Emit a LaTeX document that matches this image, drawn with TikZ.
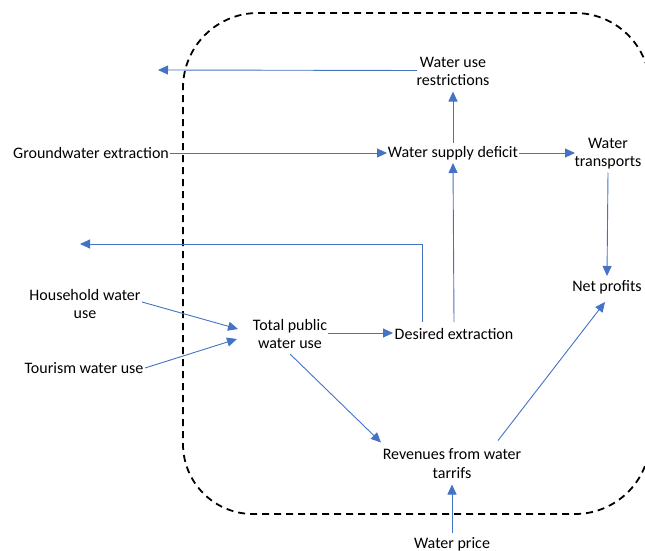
\documentclass[tikz,border=0pt]{standalone}
\usepackage{fontspec}
\setmainfont{Carlito}
\usetikzlibrary{arrows.meta,calc}
\definecolor{linkblue}{HTML}{4472C4}
\tikzset{
  label/.style={align=center,inner sep=0pt,font=\fontsize{16}{18.5}\selectfont},
  link/.style={draw=linkblue,line width=0.9pt,-{Triangle[length=10pt,width=9pt]}},
  boundary/.style={draw=black,line width=1.8pt,dash pattern=on 7pt off 5pt}
}
\begin{document}
\begin{tikzpicture}[x=1pt,y=-1pt]
\useasboundingbox (0,0) rectangle (645,551);
\clip (0,0) rectangle (645,551);

% system boundary; its right side lies beyond the page edge, so the
% path starts and ends on the right-hand corner arcs
% (y grows downwards here, so arc angles turn clockwise)
\draw[boundary] (647.44,68.59)
  arc[start angle=-15,end angle=-90,radius=75]
  -- (258,13)
  arc[start angle=270,end angle=180,radius=75]
  -- (183,444)
  arc[start angle=180,end angle=90,radius=70]
  -- (575,514)
  arc[start angle=90,end angle=15,radius=75];

% variables
\node[label] (wur) at (453,71.5) {Water use\\restrictions};
\node[label] (ge)  at (91,153)   {Groundwater extraction};
\node[label] (wsd) at (453,153)  {Water supply deficit};
\node[label] (wt)  at (608,153.5){Water\\transports};
\node[label] (np)  at (607,287)  {Net profits};
\node[label] (hh)  at (85,304)   {Household water\\use};
\node[label] (tw)  at (84,368)   {Tourism water use};
\node[label] (tp)  at (290,334)  {Total public\\water use};
\node[label] (de)  at (454,334)  {Desired extraction};
\node[label] (rev) at (452,463.5){Revenues from water\\tarrifs};
\node[label] (wp)  at (452,544)  {Water price};

% outflows leaving the boundary
\coordinate (outA) at (158,70);
\coordinate (outB) at (80,244);

% causal links
\draw[link] ($(wur)+(-36,-1)$) -- (outA);
\draw[link] ($(wsd)+(0,-10)$) -- ($(wur)+(0,20)$);
\draw[link] ($(ge)+(79,0)$) -- ($(wsd)+(-66,0)$);
\draw[link] ($(wsd)+(66,0)$) -- ($(wt)+(-33,-0.5)$);
\draw[link] ($(wt)+(0,19)$) -- ($(np)+(0,-11)$);
\draw[link] ($(de)+(-32,-12)$) |- (outB);
\draw[link] ($(de)+(0,-12)$) -- ($(wsd)+(0,10)$);
\draw[link] ($(hh)+(57,-2)$) -- ($(tp)+(-52,-5)$);
\draw[link] ($(tw)+(61,0)$) -- ($(tp)+(-53,5)$);
\draw[link] ($(tp)+(38,-1)$) -- ($(de)+(-61,-1)$);
\draw[link] ($(tp)+(0,20)$) -- ($(rev)+(-71,-21)$);
\draw[link] ($(rev)+(46,-23)$) -- ($(np)+(-2,15)$);
\draw[link] ($(wp)+(0,-11)$) -- ($(rev)+(0,21)$);
\end{tikzpicture}
\end{document}
